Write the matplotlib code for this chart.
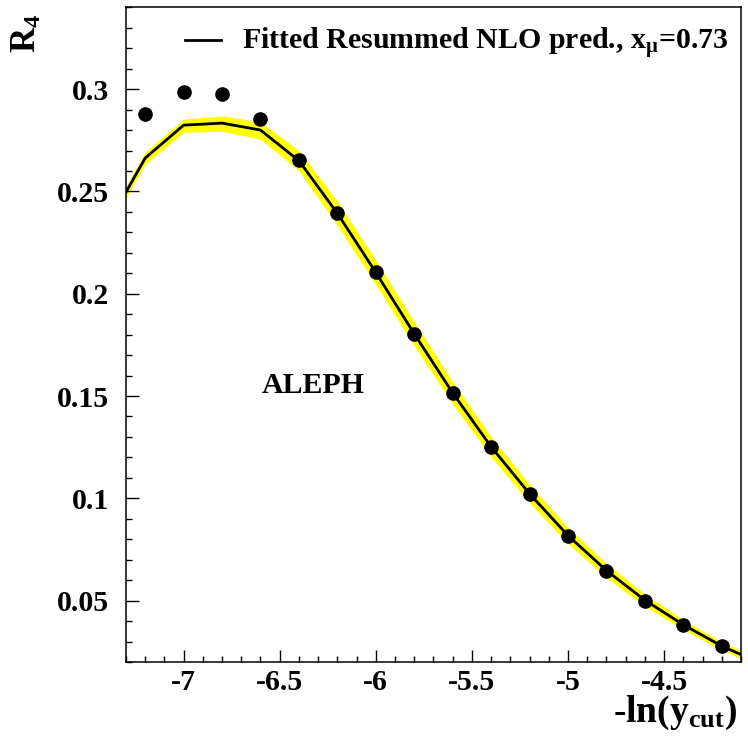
import matplotlib
matplotlib.use("Agg")
import matplotlib.pyplot as plt
import numpy as np
from matplotlib.ticker import MultipleLocator, FormatStrFormatter

plt.rcParams["font.family"] = ["Liberation Serif", "DejaVu Serif"]
plt.rcParams["font.weight"] = "bold"
plt.rcParams["axes.unicode_minus"] = False
plt.rcParams["mathtext.fontset"] = "custom"
plt.rcParams["mathtext.rm"] = "Liberation Serif:bold"
plt.rcParams["mathtext.it"] = "Liberation Serif:bold"
plt.rcParams["mathtext.bf"] = "Liberation Serif:bold"

# ALEPH four-jet rate R4 vs -ln(ycut)
data_x = [-7.2, -7.0, -6.8, -6.6, -6.4, -6.2, -6.0, -5.8, -5.6, -5.4,
          -5.2, -5.0, -4.8, -4.6, -4.4, -4.2]
data_r4 = [0.2878, 0.2985, 0.2976, 0.2854, 0.2653, 0.2395, 0.2106, 0.1804,
           0.1516, 0.1252, 0.1022, 0.0817, 0.0646, 0.0500, 0.0381, 0.0277]

# fitted resummed NLO prediction and its uncertainty band
fit_x = [-7.4, -7.2, -7.0, -6.8, -6.6, -6.4, -6.2, -6.0, -5.8, -5.6,
         -5.4, -5.2, -5.0, -4.8, -4.6, -4.4, -4.2, -4.0]
fit_r4 = [0.2331, 0.2663, 0.2824, 0.2834, 0.2800, 0.2650, 0.2393, 0.2104,
          0.1804, 0.1515, 0.1252, 0.1022, 0.0818, 0.0647, 0.0502, 0.0382,
          0.0278, 0.0195]
band_up = [0.003, 0.003, 0.003, 0.0035, 0.004, 0.005, 0.006, 0.006, 0.006,
           0.0055, 0.005, 0.0045, 0.004, 0.0035, 0.003, 0.0025, 0.002, 0.002]
band_dn = [0.003, 0.003, 0.0035, 0.004, 0.0045, 0.005, 0.006, 0.006, 0.006,
           0.0055, 0.005, 0.0045, 0.004, 0.0035, 0.003, 0.0025, 0.002, 0.002]

fx = np.array(fit_x)
fy = np.array(fit_r4)

fig = plt.figure(figsize=(7.48, 7.46), dpi=100)
ax = fig.add_axes([0.1684, 0.1126, 0.8222, 0.8776])

ax.fill_between(fx, fy - np.array(band_dn), fy + np.array(band_up),
                color="#ffff00", linewidth=0, zorder=1)
ax.plot(fx, fy, color="black", linewidth=2.0, zorder=2,
        label=r"Fitted Resummed NLO pred., $\mathrm{x_{\mu}}$=0.73")
ax.plot(data_x, data_r4, "o", color="black", markersize=9.5, zorder=3)

ax.set_xlim(-7.3, -4.1)
ax.set_ylim(0.02, 0.34)

ax.xaxis.set_major_locator(MultipleLocator(0.5))
ax.xaxis.set_minor_locator(MultipleLocator(0.1))
ax.yaxis.set_major_locator(MultipleLocator(0.05))
ax.yaxis.set_minor_locator(MultipleLocator(0.01))
ax.xaxis.set_major_formatter(FormatStrFormatter("%g"))
ax.yaxis.set_major_formatter(FormatStrFormatter("%g"))

ax.tick_params(which="both", direction="in", top=False, right=False,
               width=1.0, labelsize=21.5)
ax.tick_params(which="major", length=9)
ax.tick_params(which="minor", length=4.5)
ax.tick_params(axis="x", pad=5)
ax.tick_params(axis="y", pad=12)
for s in ax.spines.values():
    s.set_linewidth(1.1)

leg = ax.legend(loc="center left", bbox_to_anchor=(0.096, 0.944),
                frameon=False, fontsize=21.5, handlelength=1.2,
                handletextpad=0.7, borderpad=0, borderaxespad=0)

ax.text(0.304, 0.4216, "ALEPH", transform=ax.transAxes, fontsize=21.5,
        ha="center", va="center")

fig.text(0.986, 0.033, r"-ln(y$_{\mathrm{cut}}$)", fontsize=27,
         ha="right", va="baseline")
fig.text(0.037, 0.982, r"$\mathrm{R_4}$", fontsize=25, rotation=90,
         ha="center", va="top")

fig.savefig("out.png", dpi=100)
